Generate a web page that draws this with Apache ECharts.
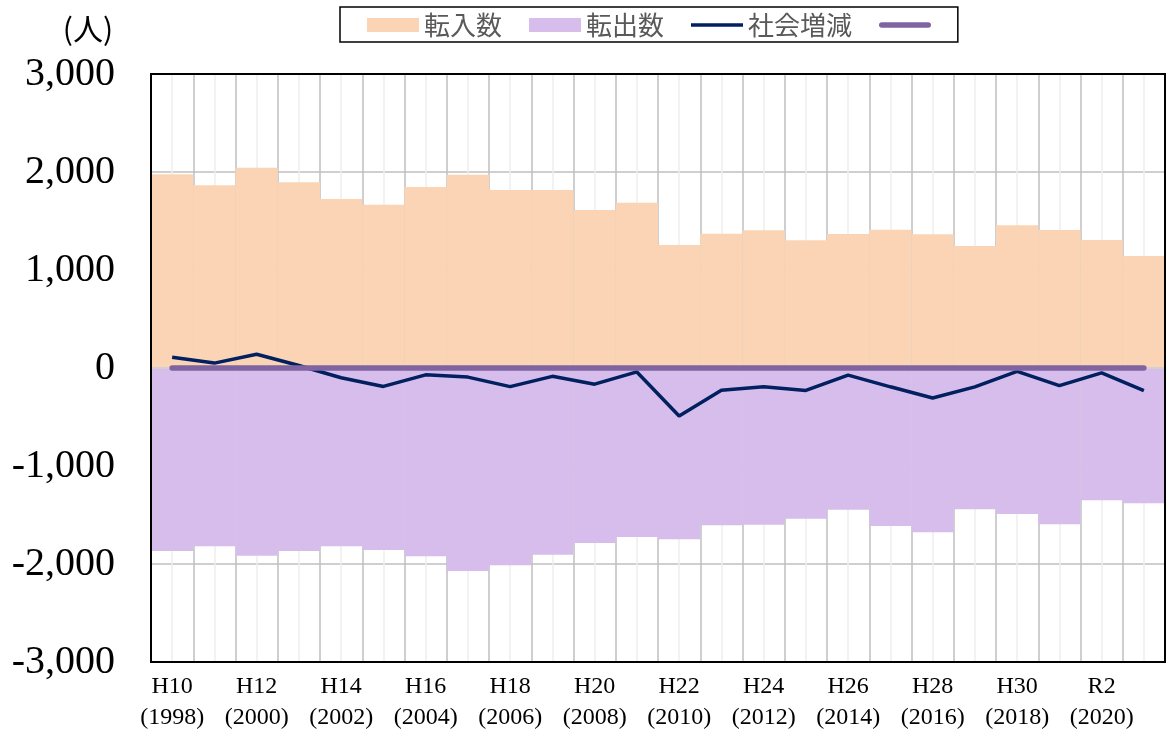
<!DOCTYPE html>
<html>
<head>
<meta charset="utf-8">
<title>転入数・転出数・社会増減</title>
<script src="https://cdn.jsdelivr.net/npm/echarts@6/dist/echarts.min.js"></script>
<style>
  html, body { margin: 0; padding: 0; background: #fff; }
  #main { width: 1167px; height: 735px; }
</style>
</head>
<body>
<div id="main"></div>
<script>
// 年度（H10〜R3）
const categories = [
  'H10\n(1998)', 'H11\n(1999)', 'H12\n(2000)', 'H13\n(2001)', 'H14\n(2002)', 'H15\n(2003)',
  'H16\n(2004)', 'H17\n(2005)', 'H18\n(2006)', 'H19\n(2007)', 'H20\n(2008)', 'H21\n(2009)',
  'H22\n(2010)', 'H23\n(2011)', 'H24\n(2012)', 'H25\n(2013)', 'H26\n(2014)', 'H27\n(2015)',
  'H28\n(2016)', 'H29\n(2017)', 'H30\n(2018)', 'R1\n(2019)', 'R2\n(2020)', 'R3\n(2021)'
]
// 転入数
const inflow = [1977, 1864, 2044, 1895, 1724, 1666, 1847, 1973, 1816, 1816, 1612, 1687,
                1255, 1370, 1405, 1303, 1367, 1411, 1364, 1245, 1456, 1408, 1306, 1143]
// 転出数（マイナス表示）
const outflow = [-1867, -1820, -1915, -1867, -1820, -1857, -1922, -2071, -2014, -1905, -1786, -1724,
                 -1748, -1605, -1599, -1537, -1446, -1612, -1677, -1442, -1490, -1595, -1350, -1380]
// 社会増減
const netChange = [110, 50, 140, 25, -100, -188, -70, -93, -190, -85, -165, -40,
                   -490, -228, -192, -229, -73, -192, -306, -193, -35, -180, -49, -230]
// 0の基準線
const baseLine = [0, 0, 0, 0, 0, 0, 0, 0, 0, 0, 0, 0,
                  0, 0, 0, 0, 0, 0, 0, 0, 0, 0, 0, 0]

const serif = '"Liberation Serif", "DejaVu Serif", serif'
const gothic = '"Noto Sans CJK JP", sans-serif'

// 凡例の線アイコン（丸マーカーなし）
const lineIcon = 'path://M0,0 H52 V3.5 H0 Z'
const roundLineIcon = 'path://M2.75,0 H49.25 A2.75,2.75 0 0 1 49.25,5.5 H2.75 A2.75,2.75 0 0 1 2.75,0 Z'

const chart = echarts.init(document.getElementById('main'))

const option = {
  animation: false,
  grid: {
    left: 151, right: 2, top: 74, bottom: 73,
    show: true, borderColor: '#000', borderWidth: 2, z: 10
  },
  legend: {
    left: 340, top: 7,
    padding: [5, 16, 4, 27],
    borderColor: '#000', borderWidth: 1.5,
    itemWidth: 52, itemHeight: 14, itemGap: 27,
    textStyle: { fontFamily: gothic, fontSize: 26, color: '#595959' },
    data: [
      { name: '転入数', icon: 'rect' },
      { name: '転出数', icon: 'rect' },
      { name: '社会増減', icon: lineIcon },
      { name: ' ', icon: roundLineIcon }
    ]
  },
  graphic: [
    {
      type: 'text', x: 88, y: 29,
      style: {
        text: '(人)', font: '30px ' + gothic, fill: '#000',
        align: 'center', verticalAlign: 'middle'
      }
    }
  ],
  xAxis: [
    {
      type: 'category',
      data: categories,
      axisLine: { show: false },
      axisTick: { show: false },
      axisLabel: {
        interval: 1, margin: 9,
        fontFamily: serif, fontSize: 24, lineHeight: 31, color: '#000'
      },
      splitLine: { show: false }
    },
    {
      // 縦の目盛線（区切り線と中央の薄い線）
      type: 'value', min: 0, max: 48, interval: 1,
      position: 'top',
      axisLine: { show: false },
      axisTick: { show: false },
      axisLabel: { show: false },
      splitLine: { show: true, lineStyle: { color: ['#BFBFBF', '#EEEEEE'], width: 1.5 } }
    }
  ],
  yAxis: {
    type: 'value', min: -3000, max: 3000, interval: 1000,
    axisLine: { show: false },
    axisTick: { show: false },
    axisLabel: {
      margin: 36, fontFamily: serif, fontSize: 40, color: '#000',
      formatter: v => v.toLocaleString('en-US')
    },
    splitLine: { lineStyle: { color: '#BFBFBF', width: 1.5 } }
  },
  series: [
    {
      name: '転入数', type: 'bar', data: inflow,
      barGap: '-100%', barCategoryGap: 0,
      itemStyle: { color: '#FAD4B4' }
    },
    {
      name: '転出数', type: 'bar', data: outflow,
      barGap: '-100%', barCategoryGap: 0,
      itemStyle: { color: '#D7BDEB' },
      markLine: {
        silent: true, symbol: 'none', z: 3,
        label: { show: false },
        lineStyle: { color: '#D0D0D0', width: 2, type: 'solid' },
        data: [{ yAxis: 0 }]
      }
    },
    {
      name: '社会増減', type: 'line', data: netChange,
      symbol: 'none', z: 6,
      lineStyle: { color: '#002060', width: 3.5 },
      itemStyle: { color: '#002060' }
    },
    {
      name: ' ', type: 'line', data: baseLine,
      symbol: 'none', z: 7,
      lineStyle: { color: '#8064A2', width: 5.5, cap: 'round' },
      itemStyle: { color: '#8064A2' }
    }
  ]
}

chart.setOption(option)
</script>
</body>
</html>
